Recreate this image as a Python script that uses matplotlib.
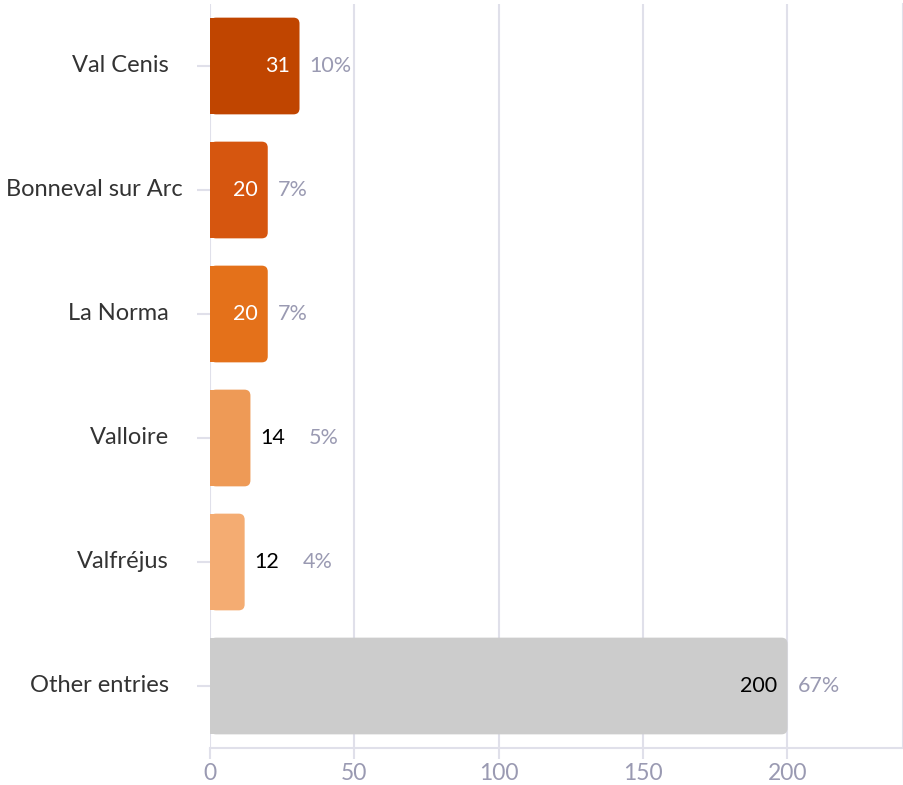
import matplotlib
matplotlib.use("Agg")
import matplotlib.pyplot as plt
from matplotlib.patches import FancyBboxPatch, Rectangle

categories = ["Val Cenis", "Bonneval sur Arc", "La Norma", "Valloire", "Valfréjus", "Other entries"]
values = [31, 20, 20, 14, 12, 200]
percents = ["10%", "7%", "7%", "5%", "4%", "67%"]
colors = ["#C04500", "#D6560F", "#E4711A", "#EE9A56", "#F4AC72", "#CCCCCC"]
inside = [True, True, True, False, False, True]
label_colors = ["white", "white", "white", "black", "black", "black"]
xticks = [0, 50, 100, 150, 200]

plt.rcParams['font.family'] = ['Lato', 'DejaVu Sans']

W, H = 904, 785
fig = plt.figure(figsize=(W / 100, H / 100), dpi=100)
ax_top, ax_bot = 4, 748
ax = fig.add_axes([210 / W, 1 - ax_bot / H, 693 / W, (ax_bot - ax_top) / H])

xmax = 240
ax.set_xlim(0, xmax)
ax.set_ylim(len(categories) - 0.5, -0.5)

ypos = list(range(len(categories)))
bar_h = 0.78
bars = ax.barh(ypos, values, height=bar_h, color=colors)

px_x = xmax / 693.0
px_y = len(categories) / float(ax_bot - ax_top)
r_px = 6
aspect = px_y / px_x
for b, c in zip(bars, colors):
    x0, y0 = b.get_x(), b.get_y()
    w, h = b.get_width(), b.get_height()
    b.set_visible(False)
    fp = FancyBboxPatch((x0, y0), w, h,
                        boxstyle=f"round,pad=0,rounding_size={r_px * px_x}",
                        mutation_aspect=aspect, facecolor=c, edgecolor='none', zorder=2)
    ax.add_patch(fp)
    ax.add_patch(Rectangle((x0, y0), w - 2 * r_px * px_x, h,
                           facecolor=c, edgecolor='none', zorder=2))

fs_val = 15.5
for i, (v, p, ins, lc) in enumerate(zip(values, percents, inside, label_colors)):
    if ins:
        ax.annotate(str(v), (v, i), xytext=(-10, 0), textcoords='offset pixels',
                    ha='right', va='center', fontsize=fs_val, color=lc, zorder=3)
        ax.annotate(p, (v, i), xytext=(10, 0), textcoords='offset pixels',
                    ha='left', va='center', fontsize=fs_val, color='#9A9AB2', zorder=3)
    else:
        ax.annotate(str(v), (v, i), xytext=(10, 0), textcoords='offset pixels',
                    ha='left', va='center', fontsize=fs_val, color=lc, zorder=3)
        ax.annotate(p, (v, i), xytext=(58, 0), textcoords='offset pixels',
                    ha='left', va='center', fontsize=fs_val, color='#9A9AB2', zorder=3)

ax.set_yticks(ypos)
ax.set_yticklabels([""] * len(categories))
# category labels: right-aligned 41px left of the axis; the long one is
# shifted right in the reference so it fits in the margin
for i, cat in enumerate(categories):
    off = -41 if len(cat) < 15 else -27
    ax.annotate(cat, (0, i), xycoords=('axes fraction', 'data'),
                xytext=(off, 0), textcoords='offset pixels',
                ha='right', va='center', fontsize=17, color='#333333',
                annotation_clip=False)

ax.set_xticks(xticks)
ax.set_xticklabels([str(t) for t in xticks], fontsize=16.5, color='#9A9AB2')

grid_c = '#E0E0EA'
ax.grid(axis='x', color=grid_c, linewidth=1.5, zorder=0)
ax.set_axisbelow(True)
for s in ['top', 'left']:
    ax.spines[s].set_visible(False)
ax.spines['bottom'].set_color(grid_c)
ax.spines['bottom'].set_linewidth(1.5)
ax.spines['right'].set_color(grid_c)
ax.spines['right'].set_linewidth(1.5)
ax.tick_params(axis='y', length=9.4, width=1.5, color=grid_c, pad=20)
ax.tick_params(axis='x', length=8, width=1.5, color=grid_c, pad=3)

fig.savefig("out.png", dpi=100)
